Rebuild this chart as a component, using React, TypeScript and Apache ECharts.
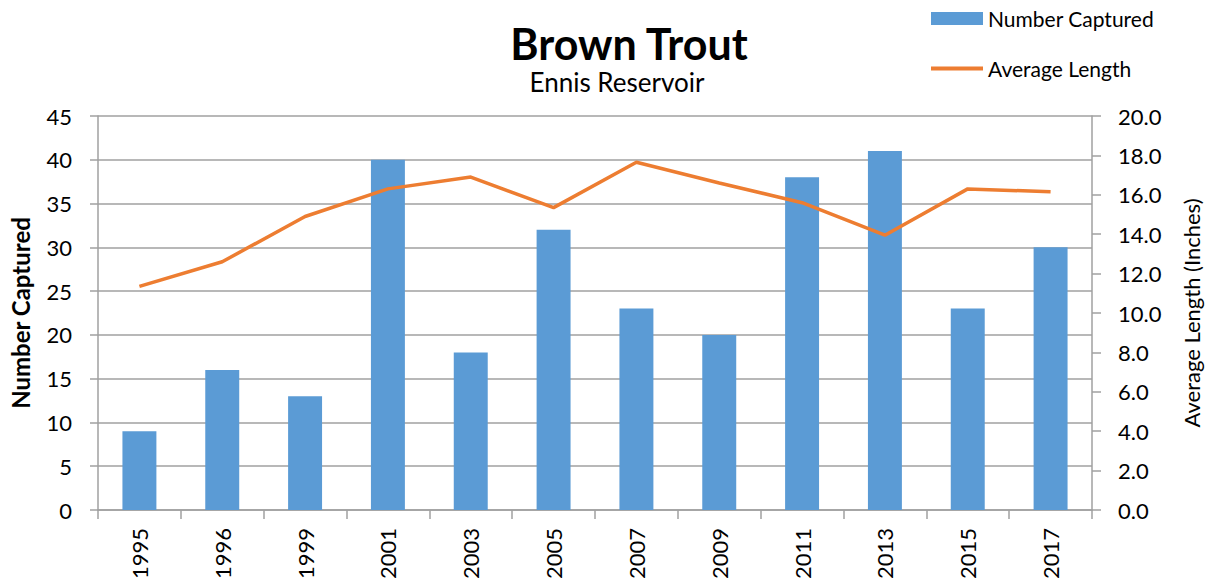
import React, { useEffect, useRef } from "react";
import * as echarts from "echarts";

const years = ["1995", "1996", "1999", "2001", "2003", "2005", "2007", "2009", "2011", "2013", "2015", "2017"];
const numberCaptured = [9, 16, 13, 40, 18, 32, 23, 20, 38, 41, 23, 30];
const averageLength = [11.35, 12.6, 14.9, 16.3, 16.9, 15.35, 17.65, 16.6, 15.6, 13.95, 16.3, 16.15];

const FONT = "Lato, 'Open Sans', sans-serif";
const GRAY = "#a0a0a0";

export default function App() {
  const ref = useRef<HTMLDivElement>(null);
  useEffect(() => {
    document.body.style.margin = "0";
    if (!ref.current) return;
    const chart = echarts.init(ref.current, undefined, { renderer: "svg" });
    chart.setOption({
      animation: false,
      textStyle: { fontFamily: FONT, color: "#000" },
      title: [
        {
          text: "Brown Trout",
          left: 624,
          top: 17,
          textAlign: "center",
          textStyle: { fontSize: 43, fontWeight: "bold", color: "#000", fontFamily: FONT },
        },
        {
          text: "Ennis Reservoir",
          left: 612,
          top: 64,
          textAlign: "center",
          textStyle: { fontSize: 26, fontWeight: "normal", color: "#000", fontFamily: FONT },
        },
      ],
      legend: {
        orient: "vertical",
        left: 929,
        top: 8,
        padding: 0,
        itemWidth: 52,
        itemHeight: 13,
        itemGap: 29,
        textStyle: { fontSize: 21, color: "#000", fontFamily: FONT },
        data: [
          { name: "Number Captured", icon: "rect" },
          { name: "Average Length", itemStyle: { opacity: 0 }, lineStyle: { width: 4 } },
        ],
      },
      grid: { left: 94, right: 115, top: 116, bottom: 74 },
      xAxis: {
        type: "category",
        data: years,
        boundaryGap: true,
        axisLine: { lineStyle: { color: GRAY, width: 1.5 } },
        axisTick: { show: true, length: 9, lineStyle: { color: GRAY, width: 1.5 } },
        axisLabel: { rotate: 90, fontSize: 22, color: "#000", margin: 18, fontFamily: FONT },
      },
      yAxis: [
        {
          type: "value",
          min: 0,
          max: 45,
          interval: 5,
          name: "Number Captured",
          nameLocation: "middle",
          nameGap: 66,
          nameTextStyle: { fontSize: 24, fontWeight: "bold", color: "#000", fontFamily: FONT },
          axisLine: { show: true, lineStyle: { color: GRAY, width: 1.5 } },
          axisTick: { show: true, length: 8, lineStyle: { color: GRAY, width: 1.5 } },
          axisLabel: { fontSize: 22, color: "#000", margin: 26, fontFamily: FONT },
          splitLine: { show: true, lineStyle: { color: GRAY, width: 1.5 } },
        },
        {
          type: "value",
          min: 0,
          max: 20,
          interval: 2,
          position: "right",
          name: "Average Length (Inches)",
          nameLocation: "middle",
          nameGap: 88,
          nameRotate: 90,
          nameTextStyle: { fontSize: 22, color: "#000", fontFamily: FONT },
          axisLine: { show: true, lineStyle: { color: GRAY, width: 1.5 } },
          axisTick: { show: true, length: 9, lineStyle: { color: GRAY, width: 1.5 } },
          axisLabel: {
            fontSize: 22,
            color: "#000",
            margin: 26,
            fontFamily: FONT,
            formatter: (v: number) => v.toFixed(1),
          },
          splitLine: { show: false },
        },
      ],
      series: [
        {
          name: "Number Captured",
          type: "bar",
          data: numberCaptured,
          yAxisIndex: 0,
          barWidth: "41%",
          itemStyle: { color: "#5b9bd5" },
        },
        {
          name: "Average Length",
          type: "line",
          data: averageLength,
          yAxisIndex: 1,
          symbol: "none",
          lineStyle: { color: "#ed7d31", width: 3.5 },
          itemStyle: { color: "#ed7d31" },
        },
      ],
    });
    return () => chart.dispose();
  }, []);
  return <div ref={ref} style={{ width: 1210, height: 584 }} />;
}
